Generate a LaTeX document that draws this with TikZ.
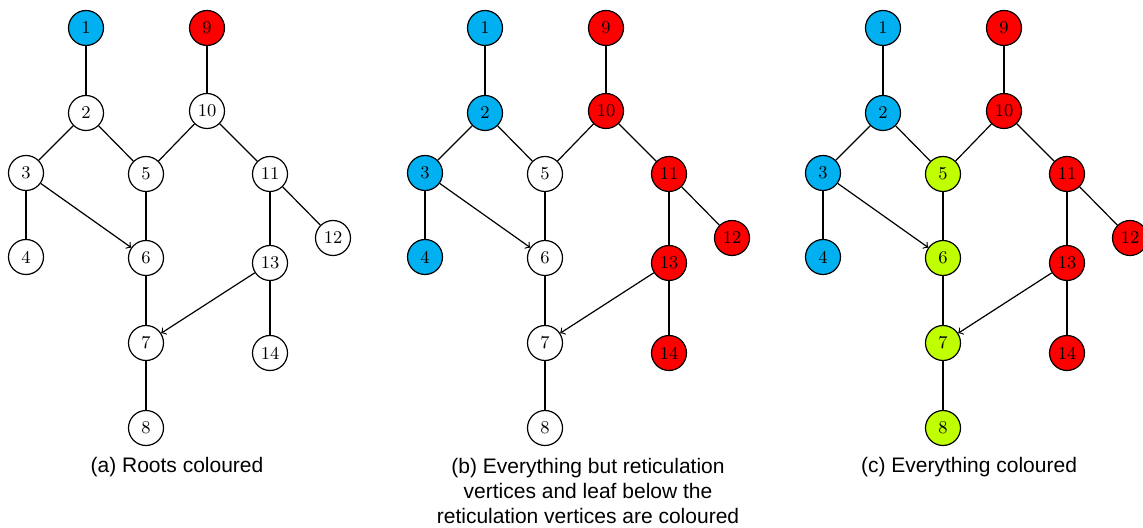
\documentclass[tikz,border=0pt]{standalone}
\usepackage{fontspec}
\setmainfont{Liberation Sans}
\newfontfamily\numfont{Latin Modern Roman}
\usepackage{tikz}
\usetikzlibrary{calc}

\definecolor{rootblue}{RGB}{0,176,240}
\definecolor{rootred}{RGB}{255,0,0}
\definecolor{retgreen}{RGB}{191,255,0}

\begin{document}
\begin{tikzpicture}[
    x=0.5pt, y=-0.5pt,
    line width=0.6pt,
    vertex/.style={draw, circle, minimum size=17.5pt, inner sep=0pt, font=\numfont\fontsize{9}{10}\selectfont},
    caption/.style={align=center, font=\fontsize{10.5}{12.5}\selectfont}
]
\useasboundingbox (0,0) rectangle (1143,528);

% vertex positions of the network
\foreach \x/\y [count=\n] in {86/28, 86/113, 26/173, 26/257, 146/174, 146/258, 146/343, 146/428,
                              207/28, 207/111, 270/174, 333/238, 270/263, 270/353}
    \coordinate (v\n) at (\x,\y);

% one copy of the network per colouring step
\foreach \p/\dx/\cols in {
    a/0/{rootblue,white,white,white,white,white,white,white,rootred,white,white,white,white,white},
    b/399/{rootblue,rootblue,rootblue,rootblue,white,white,white,white,rootred,rootred,rootred,rootred,rootred,rootred},
    c/797/{rootblue,rootblue,rootblue,rootblue,retgreen,retgreen,retgreen,retgreen,rootred,rootred,rootred,rootred,rootred,rootred}} {
  \foreach \c [count=\n] in \cols
    \node[vertex, fill=\c] (\p\n) at ($(v\n)+(\dx,0)$) {\n};
  \foreach \s/\t in {1/2, 2/3, 2/5, 3/4, 5/6, 6/7, 7/8, 9/10, 10/5, 10/11, 11/12, 11/13, 13/14}
    \draw (\p\s) -- (\p\t);
  \draw[->] (\p3) -- (\p6);
  \draw[->] (\p13) -- (\p7);
}

\node[caption] (capa) at (177,467) {(a) Roots coloured};
\node[caption] (capb) at (588,491) {(b) Everything but reticulation\\vertices and leaf below the\\reticulation vertices are coloured};
\node[caption] (capc) at (969,467) {(c) Everything coloured};
\end{tikzpicture}
\end{document}
